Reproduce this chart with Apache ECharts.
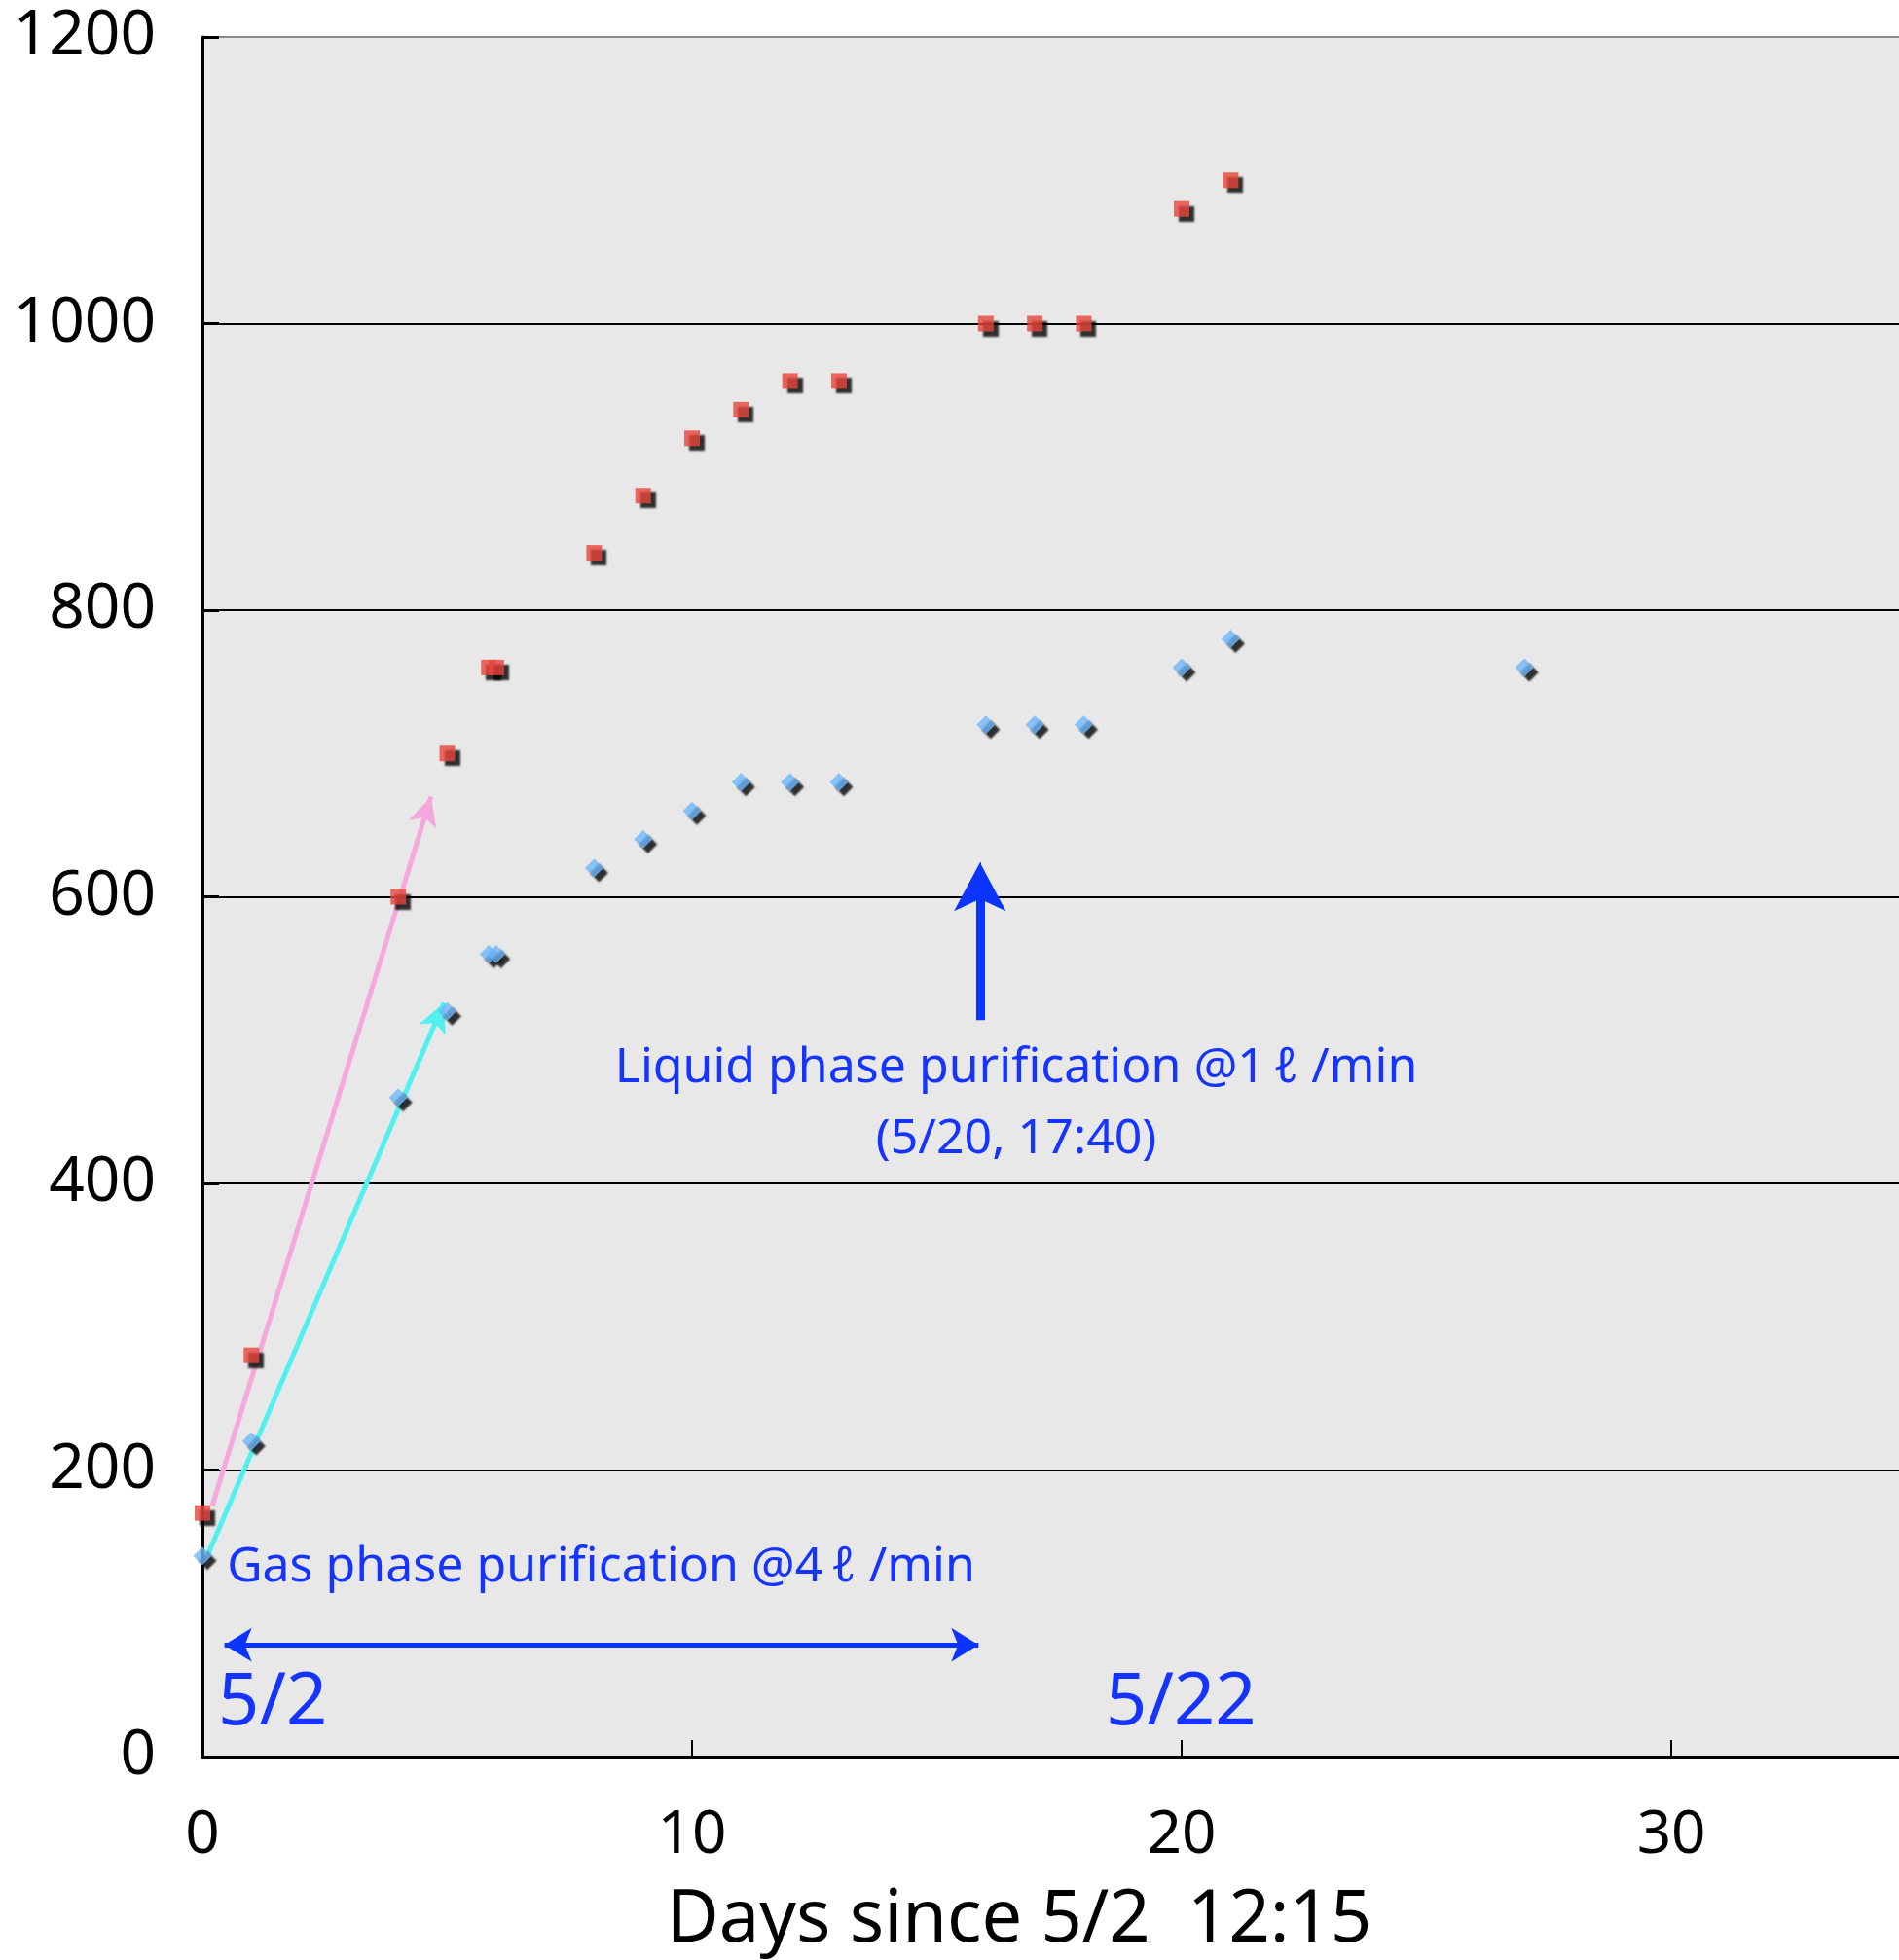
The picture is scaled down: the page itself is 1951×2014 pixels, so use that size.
<!DOCTYPE html>
<html>
<head>
<meta charset="utf-8">
<script src="https://cdn.jsdelivr.net/npm/echarts@6/dist/echarts.min.js"></script>
<style>
html,body{margin:0;padding:0;background:#fff;}
#main{width:1951px;height:2014px;}
</style>
</head>
<body>
<div id="main"></div>
<script>
// ---- data ----
const redDays   = [0, 1, 4, 5, 5.85, 6, 8, 9, 10, 11, 12, 13, 16, 17, 18, 20, 21];
const redValues = [170, 280, 600, 700, 760, 760, 840, 880, 920, 940, 960, 960, 1000, 1000, 1000, 1080, 1100];
const blueDays   = [0, 1, 4, 5, 5.85, 6, 8, 9, 10, 11, 12, 13, 16, 17, 18, 20, 21, 27];
const blueValues = [140, 220, 460, 520, 560, 560, 620, 640, 660, 680, 680, 680, 720, 720, 720, 760, 780, 760];
const xTickValues = [0, 10, 20, 30];
const yTickValues = [0, 200, 400, 600, 800, 1000, 1200];
const xAxisTitle = 'Days since 5/2  12:15';

// ---- annotations (in data coordinates) ----
const pinkArrow   = [[0.2, 175], [4.67, 670]];
const cyanArrow   = [[0.1, 140], [4.93, 526]];
const liquidShaft = [[15.88, 514], [15.88, 600]];
const liquidHead  = [[15.88, 590], [15.88, 624]];
const gasSpan     = [[0.45, 78], [15.85, 78]];
const liquidText  = ['Liquid phase purification @1\u2009ℓ /min', '(5/20, 17:40)'];
const liquidTextAt = [[16.62, 480], [16.62, 431]];
const gasText = 'Gas phase purification @4\u2009ℓ /min';
const gasTextAt = [0.5, 132];
const dateLabels = ['5/2', '5/22'];
const dateLabelsAt = [[0.32, 37], [18.45, 37]];

const redPts = redDays.map((d, i) => [d, redValues[i]]);
const bluePts = blueDays.map((d, i) => [d, blueValues[i]]);

const FONT = '"Noto Sans", "DejaVu Sans", sans-serif';
const TXTBLUE = '#1534ff';
const ARROWBLUE = '#0b35ff';

const chart = echarts.init(document.getElementById('main'), null, {renderer: 'canvas'});

function arrowLine(pts, color, width, symbols, size) {
  return {
    silent: true,
    animation: false,
    symbol: symbols,
    symbolSize: size,
    label: {show: false},
    lineStyle: {color: color, width: width, type: 'solid', opacity: 1},
    emphasis: {disabled: true},
    data: [[{coord: pts[0]}, {coord: pts[1]}]]
  };
}

const option = {
  animation: false,
  backgroundColor: '#ffffff',
  grid: {
    left: 208, top: 38, right: 0, bottom: 209,
    show: true, backgroundColor: '#e8e8e8', borderWidth: 0
  },
  xAxis: {
    type: 'value', min: 0, max: 34.65, interval: 10,
    axisLine: {show: true, onZero: false, lineStyle: {color: '#000', width: 3}},
    axisTick: {show: true, inside: true, length: 17, customValues: xTickValues, lineStyle: {color: '#000', width: 2}},
    axisLabel: {show: true, customValues: xTickValues, margin: 50, color: '#000', fontSize: 62, fontFamily: FONT},
    splitLine: {show: false}
  },
  yAxis: {
    type: 'value', min: 0, max: 1200, interval: 200,
    axisLine: {show: true, onZero: false, lineStyle: {color: '#000', width: 3}},
    axisTick: {show: true, inside: true, length: 17, lineStyle: {color: '#000', width: 3}},
    axisLabel: {show: true, margin: 48, color: '#000', fontSize: 64, fontFamily: FONT,
      formatter: v => yTickValues.indexOf(v) >= 0 ? String(v) : ''},
    splitLine: {show: true, lineStyle: {color: ['#000', '#000', '#000', '#000', '#000', '#000', '#8a8a8a'], width: 2}}
  },
  series: [
    {
      type: 'scatter', name: 'red', data: redPts,
      symbol: 'rect', symbolSize: 16, z: 5,
      itemStyle: {color: '#e8453c', shadowColor: 'rgba(0,0,0,1)', shadowBlur: 2, shadowOffsetX: 5, shadowOffsetY: 5},
      markLine: arrowLine(pinkArrow, '#f5a8dc', 5, ['none', 'arrow'], [22, 30])
    },
    {
      type: 'scatter', name: 'blue', data: bluePts,
      symbol: 'diamond', symbolSize: [19, 19], z: 5,
      itemStyle: {color: '#6db7fb', shadowColor: 'rgba(0,0,0,1)', shadowBlur: 2, shadowOffsetX: 5, shadowOffsetY: 5},
      markLine: arrowLine(cyanArrow, '#52f1ef', 5, ['none', 'arrow'], [22, 30])
    },
    {
      type: 'line', name: 'liquidShaft', data: [], silent: true,
      markLine: arrowLine(liquidShaft, ARROWBLUE, 9, ['none', 'none'], 1)
    },
    {
      type: 'line', name: 'liquidHead', data: [], silent: true,
      markLine: arrowLine(liquidHead, ARROWBLUE, 1, ['none', 'arrow'], [40, 50])
    },
    {
      type: 'line', name: 'gas', data: [], silent: true,
      markLine: arrowLine(gasSpan, ARROWBLUE, 5, ['arrow', 'arrow'], [26, 28])
    }
  ]
};
chart.setOption(option);

function px(p) { return chart.convertToPixel({gridIndex: 0}, p); }

const graphics = [];
liquidText.forEach((t, i) => {
  const p = px(liquidTextAt[i]);
  graphics.push({type: 'text', x: p[0], y: p[1], z: 10,
    style: {text: t, fill: TXTBLUE, fontSize: 50, fontFamily: FONT, align: 'center', verticalAlign: 'middle'}});
});
{
  const p = px(gasTextAt);
  graphics.push({type: 'text', x: p[0], y: p[1], z: 10,
    style: {text: gasText, fill: TXTBLUE, fontSize: 50, fontFamily: FONT, align: 'left', verticalAlign: 'middle'}});
}
dateLabels.forEach((t, i) => {
  const p = px(dateLabelsAt[i]);
  graphics.push({type: 'text', x: p[0], y: p[1], z: 10,
    style: {text: t, fill: TXTBLUE, fontSize: 74, fontFamily: FONT, align: 'left', verticalAlign: 'middle'}});
});
graphics.push({type: 'text', x: 1047, y: 1974, z: 10,
  style: {text: xAxisTitle, fill: '#000', fontSize: 74, fontFamily: FONT, align: 'center', verticalAlign: 'middle'}});

chart.setOption({graphic: graphics});
</script>
</body>
</html>
